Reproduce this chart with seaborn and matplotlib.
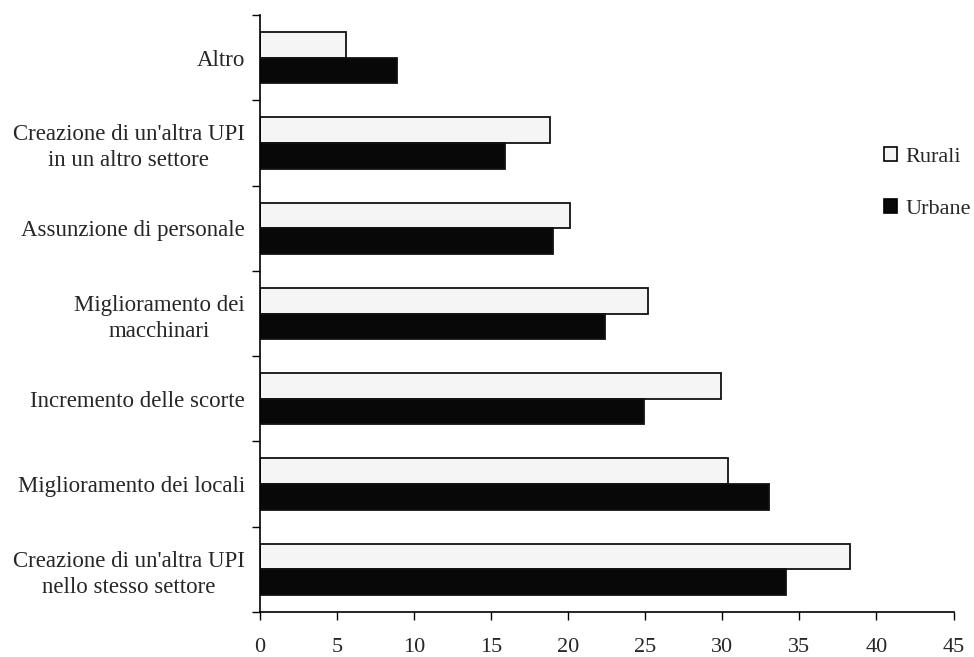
import matplotlib
matplotlib.use("Agg")
import matplotlib.pyplot as plt
from matplotlib.patches import Patch
from matplotlib.ticker import FixedLocator
import seaborn as sns
import pandas as pd

categories = [
    "Altro",
    "Creazione di un'altra UPI\nin un altro settore",
    "Assunzione di personale",
    "Miglioramento dei\nmacchinari",
    "Incremento delle scorte",
    "Miglioramento dei locali",
    "Creazione di un'altra UPI\nnello stesso settore",
]
rurali = [5.6, 18.8, 20.1, 25.2, 29.9, 30.4, 38.3]
urbane = [8.9, 15.9, 19.0, 22.4, 24.9, 33.0, 34.1]
series = ["Rurali", "Urbane"]
x_ticks = [0, 5, 10, 15, 20, 25, 30, 35, 40, 45]

df = pd.DataFrame({
    "categoria": categories * 2,
    "valore": rurali + urbane,
    "zona": [series[0]] * len(categories) + [series[1]] * len(categories),
})

sns.set_theme(style="white")
plt.rcParams["font.family"] = ["Liberation Serif", "DejaVu Serif"]

fig = plt.figure(figsize=(9.74, 6.57), dpi=100)
ax = fig.add_axes([260 / 974, 1 - 612 / 657, (953.5 - 260) / 974, (612 - 15) / 657])

palette = {"Rurali": "#f5f5f5", "Urbane": "#080808"}
sns.barplot(data=df, x="valore", y="categoria", hue="zona", order=categories,
            hue_order=series, palette=palette, orient="h", width=0.6, gap=0,
            edgecolor="#111111", linewidth=1.3, saturation=1, ax=ax, legend=False)

ax.set_xlim(0, 45)
ax.set_ylim(len(categories) - 0.5, -0.5)
ax.set_xlabel("")
ax.set_ylabel("")

ax.set_xticks(x_ticks)
ax.set_xticklabels([str(t) for t in x_ticks], fontsize=16)
ax.tick_params(axis="x", direction="out", length=6, width=1, color="black",
               pad=13, bottom=True)

ax.set_yticks(range(len(categories)))
ax.set_yticklabels(categories, fontsize=16.5, ha="right", multialignment="center",
                   linespacing=1.3)
ax.tick_params(axis="y", which="major", length=0, pad=11)
ax.yaxis.set_minor_locator(FixedLocator([i - 0.5 for i in range(len(categories) + 1)]))
ax.tick_params(axis="y", which="minor", direction="out", length=6, width=1,
               color="black", left=True)

for side in ["top", "right"]:
    ax.spines[side].set_visible(False)
for side in ["left", "bottom"]:
    ax.spines[side].set_color("black")
    ax.spines[side].set_linewidth(1.2)

handles = [Patch(facecolor=palette[s], edgecolor="black", linewidth=1.2, label=s)
           for s in series]
fig.legend(handles=handles, loc="upper left", bbox_to_anchor=(884 / 974, 1 - 147 / 657),
           frameon=False, fontsize=16, handlelength=0.6, handleheight=0.6,
           handletextpad=0.35, labelspacing=1.45, borderaxespad=0, borderpad=0)

fig.savefig("out.png", dpi=100, facecolor="white")
